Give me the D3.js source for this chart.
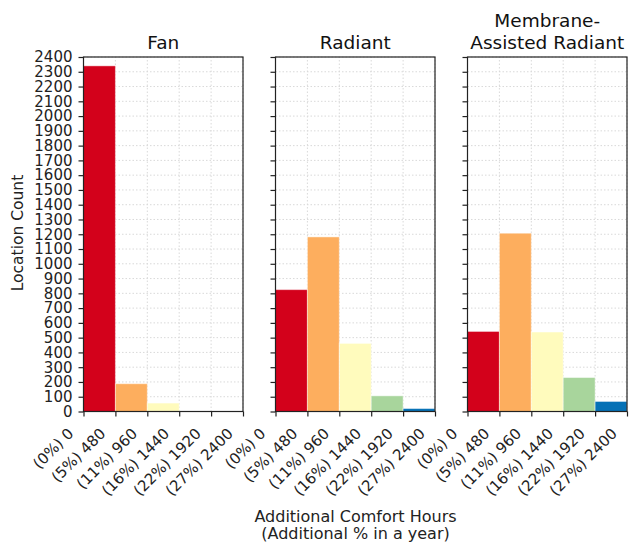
<!DOCTYPE html>
<html><head><meta charset="utf-8">
<script src="https://cdn.jsdelivr.net/npm/d3@7"></script>
<style>body{margin:0;background:#fff}svg{display:block;font-family:"DejaVu Sans",sans-serif}</style>
</head><body><svg id="c" width="630" height="545"></svg>
<script>
const panels = [["Fan"], ["Radiant"], ["Membrane-", "Assisted Radiant"]];
const binEdges = [0, 480, 960, 1440, 1920, 2400];
const tickLabels = ["(0%) 0", "(5%) 480", "(11%) 960", "(16%) 1440", "(22%) 1920", "(27%) 2400"];
const fanCounts = [2340, 188, 57, 0, 0];
const radiantCounts = [825, 1182, 461, 106, 20];
const membraneCounts = [542, 1207, 538, 230, 68];
const binColors = ["#d3011b", "#fdae5e", "#fffbbd", "#a8d59c", "#0571b6"];
const yTicks = d3.range(0, 2401, 100);

const allCounts = [fanCounts, radiantCounts, membraneCounts];
const svg = d3.select("#c");
const plotTop = 57, plotBottom = 411.5, w = 159.5;
const lefts = [83.5, 275.5, 467.5];
const y = d3.scaleLinear().domain([0, 2400]).range([plotBottom, plotTop]);

panels.forEach((title, i) => {
  const x = d3.scaleLinear().domain([0, 2400]).range([lefts[i], lefts[i] + w]);
  const g = svg.append("g");
  g.selectAll(".gy").data(yTicks).enter().append("line")
    .attr("x1", x(0)).attr("x2", x(2400)).attr("y1", d => y(d)).attr("y2", d => y(d))
    .attr("stroke", "#d9d9d9").attr("stroke-width", 1).attr("stroke-dasharray", "1.5,2");
  g.selectAll(".gx").data(binEdges).enter().append("line")
    .attr("y1", y(0)).attr("y2", y(2400)).attr("x1", d => x(d)).attr("x2", d => x(d))
    .attr("stroke", "#d9d9d9").attr("stroke-width", 1).attr("stroke-dasharray", "1.5,2");
  g.selectAll(".bar").data(allCounts[i]).enter().append("rect")
    .attr("x", (d, j) => x(binEdges[j]))
    .attr("width", (d, j) => x(binEdges[j + 1]) - x(binEdges[j]))
    .attr("y", d => y(d)).attr("height", d => y(0) - y(d))
    .attr("fill", (d, j) => binColors[j])
    .attr("stroke", "rgba(255,255,255,0.45)").attr("stroke-width", 1);
  g.append("rect").attr("x", x(0)).attr("y", plotTop).attr("width", w).attr("height", plotBottom - plotTop)
    .attr("fill", "none").attr("stroke", "#222").attr("stroke-width", 1.2);
  const ya = d3.axisLeft(y).tickValues(yTicks).tickSize(5).tickPadding(6)
    .tickFormat(i === 0 ? d3.format("d") : () => "");
  const yg = g.append("g").attr("transform", `translate(${x(0)},0)`).call(ya);
  yg.select(".domain").remove();
  yg.selectAll("line").attr("stroke", "#222").attr("stroke-width", 1.2);
  yg.selectAll("text").attr("font-size", 15).attr("fill", "#222").attr("font-family", "DejaVu Sans");
  const xa = d3.axisBottom(x).tickValues(binEdges).tickSize(5)
    .tickFormat((d, j) => tickLabels[j]);
  const xg = g.append("g").attr("transform", `translate(0,${plotBottom})`).call(xa);
  xg.select(".domain").remove();
  xg.selectAll("line").attr("stroke", "#222").attr("stroke-width", 1.2);
  xg.selectAll("text").attr("font-size", 15).attr("fill", "#222").attr("font-family", "DejaVu Sans")
    .attr("text-anchor", "end").attr("dy", 0).attr("y", 0).attr("x", 0)
    .attr("transform", "translate(-9.5,23) rotate(-45)");
  const cx = x(1200);
  const t = g.append("text").attr("text-anchor", "middle").attr("font-size", 18.5).attr("fill", "#111");
  title.forEach((line, k) => {
    t.append("tspan").attr("x", cx).attr("y", 48.5 - (title.length - 1 - k) * 21.8).text(line);
  });
});

svg.append("text").attr("transform", `translate(23,233) rotate(-90)`).attr("text-anchor", "middle")
  .attr("font-size", 15.5).attr("fill", "#222").text("Location Count");
svg.append("text").attr("x", 355.5).attr("y", 522).attr("text-anchor", "middle")
  .attr("font-size", 16).attr("fill", "#222").text("Additional Comfort Hours");
svg.append("text").attr("x", 355.5).attr("y", 539).attr("text-anchor", "middle")
  .attr("font-size", 16).attr("fill", "#222").text("(Additional % in a year)");
</script></body></html>
